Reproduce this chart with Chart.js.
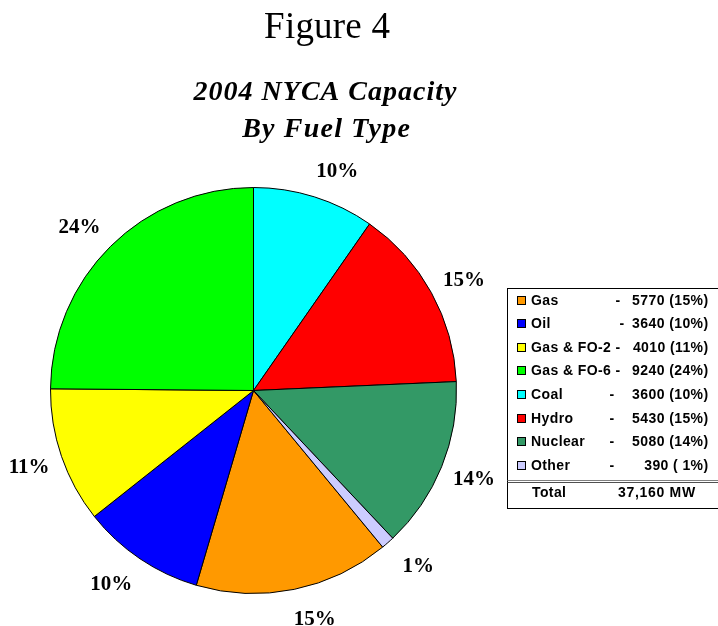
<!DOCTYPE html>
<html>
<head>
<meta charset="utf-8">
<script src="https://cdn.jsdelivr.net/npm/chart.js@4/dist/chart.umd.min.js"></script>
<style>
  html, body { margin: 0; padding: 0; background: #ffffff; }
  #wrap { position: relative; width: 718px; height: 626px; }
</style>
</head>
<body>
<div id="wrap"><canvas id="c" width="718" height="626"></canvas></div>
<script>
// ---- data (legend order) ----
const categories = ['Gas', 'Oil', 'Gas & FO-2', 'Gas & FO-6', 'Coal', 'Hydro', 'Nuclear', 'Other'];
const capacityMW = [5770, 3640, 4010, 9240, 3600, 5430, 5080, 390];
const percentLabels = [15, 10, 11, 24, 10, 15, 14, 1];
const colors = ['#FF9900', '#0000FF', '#FFFF00', '#00FF00', '#00FFFF', '#FF0000', '#339966', '#CCCCFF'];
const figureTitle = 'Figure 4';
const chartTitle = ['2004 NYCA Capacity', 'By Fuel Type'];
const totalLabel = 'Total';
const totalText = '37,160 MW';
const firstAtTop = 'Coal'; // slice that starts at 12 o'clock

const total = capacityMW.reduce((a, b) => a + b, 0);
const startIdx = categories.indexOf(firstAtTop);
const before = capacityMW.slice(startIdx).reduce((a, b) => a + b, 0);
const rotationDeg = before / total * 360;

const serif = '"Liberation Serif", "Times New Roman", serif';
const sans = '"Liberation Sans", Arial, sans-serif';

function centeredText(ctx, text, x, y, spacing) {
  ctx.letterSpacing = spacing + 'px';
  const w = ctx.measureText(text).width - spacing;
  ctx.textAlign = 'left';
  ctx.fillText(text, x - w / 2, y);
  ctx.letterSpacing = '0px';
}

const decorPlugin = {
  id: 'decor',
  afterDraw(chart) {
    const ctx = chart.ctx;
    ctx.save();
    // titles
    ctx.fillStyle = '#000';
    ctx.textBaseline = 'alphabetic';
    ctx.font = '37px ' + serif;
    centeredText(ctx, figureTitle, 327, 38, 0.2);
    ctx.font = 'italic bold 28px ' + serif;
    centeredText(ctx, chartTitle[0], 325, 100, 1);
    centeredText(ctx, chartTitle[1], 326, 137, 1.2);

    // percentage labels outside the slices
    const meta = chart.getDatasetMeta(0);
    ctx.font = 'bold 21px ' + serif;
    ctx.textBaseline = 'middle';
    ctx.textAlign = 'center';
    meta.data.forEach((arc, i) => {
      const p = arc.getProps(['x', 'y', 'startAngle', 'endAngle', 'outerRadius'], true);
      const mid = (p.startAngle + p.endAngle) / 2;
      const r = p.outerRadius + 29;
      const c = Math.cos(mid), s = Math.sin(mid);
      const lx = p.x + c * r + Math.sign(c) * 15 * Math.abs(s);
      const ly = p.y + s * r + 2;
      ctx.fillText(percentLabels[i] + '%', lx, ly);
    });

    // legend box
    const bx = 507.5, by = 288.5, bw = 220, bh = 220;
    ctx.strokeStyle = '#000';
    ctx.lineWidth = 1;
    ctx.strokeRect(bx, by, bw, bh);
    // double separator
    ctx.strokeStyle = '#808080';
    ctx.beginPath(); ctx.moveTo(bx, 480.5); ctx.lineTo(718, 480.5); ctx.stroke();
    ctx.strokeStyle = '#505050';
    ctx.beginPath(); ctx.moveTo(bx, 482.5); ctx.lineTo(718, 482.5); ctx.stroke();

    ctx.font = 'bold 14px ' + sans;
    ctx.textBaseline = 'middle';
    ctx.letterSpacing = '0.4px';
    categories.forEach((name, i) => {
      const y = Math.round(300.5 + i * 23.6);
      ctx.fillStyle = colors[i];
      ctx.fillRect(517, y - 4, 8, 8);
      ctx.strokeStyle = '#000';
      ctx.strokeRect(517.5, y - 4.5, 8, 8);
      ctx.fillStyle = '#000';
      ctx.textAlign = 'left';
      ctx.fillText(name, 531, y);
      const dashX = name.length > 8 ? 618 : (name === 'Gas' ? 618 : (name === 'Oil' ? 622 : 612));
      ctx.textAlign = 'center';
      ctx.fillText('-', dashX, y);
      ctx.textAlign = 'right';
      const pct = percentLabels[i] < 10 ? ' ' + percentLabels[i] : String(percentLabels[i]);
      ctx.fillText(capacityMW[i] + ' (' + pct + '%)', 708.5, y);
    });
    ctx.textAlign = 'left';
    ctx.fillText(totalLabel, 532, 493);
    ctx.letterSpacing = '0.7px';
    ctx.fillText(totalText, 618, 493);
    ctx.letterSpacing = '0px';
    ctx.restore();
  }
};

new Chart(document.getElementById('c'), {
  type: 'pie',
  data: {
    labels: categories,
    datasets: [{
      data: capacityMW,
      backgroundColor: colors,
      borderColor: '#000000',
      borderWidth: 1,
      borderAlign: 'center'
    }]
  },
  options: {
    responsive: false,
    animation: false,
    rotation: rotationDeg,
    layout: { padding: { left: 50, right: 261, top: 187, bottom: 32 } },
    plugins: {
      legend: { display: false },
      title: { display: false },
      tooltip: { enabled: false }
    }
  },
  plugins: [decorPlugin]
});
</script>
</body>
</html>
